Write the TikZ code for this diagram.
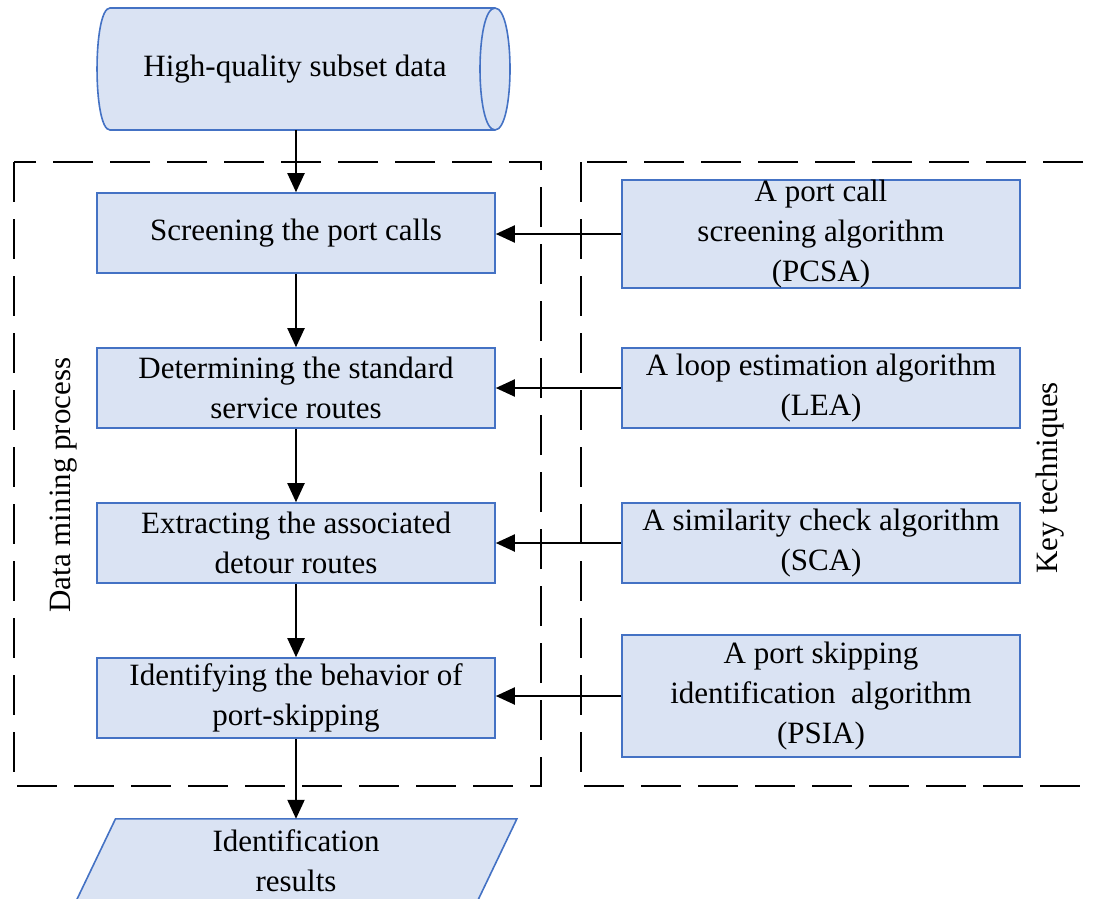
\documentclass[tikz,border=0pt]{standalone}
\usepackage{fontspec}
\setmainfont{Liberation Serif}
\usetikzlibrary{arrows.meta}
\definecolor{boxfill}{RGB}{218,227,243}
\definecolor{boxline}{RGB}{68,114,196}
\tikzset{
  flowbox/.style={draw=boxline, fill=boxfill, line width=1.6pt, minimum width=398pt,
    inner sep=0pt, align=center, font=\fontsize{31}{40}\selectfont},
  plaintext/.style={inner sep=0pt, align=center, font=\fontsize{31}{40}\selectfont},
  arr/.style={line width=2pt, -{Triangle[length=19pt,width=17pt]}},
  groupframe/.style={draw=black, line width=2.2pt, dash pattern=on 40pt off 17pt},
  shapeline/.style={draw=boxline, line width=1.6pt},
}
\begin{document}
\begin{tikzpicture}[x=1pt, y=-1pt]
\useasboundingbox (0,0) rectangle (1097,899);
\clip (0,0) rectangle (1097,899);

% dashed group frames
\draw[groupframe] (14,162) rectangle (541,786);
\draw[groupframe] (581,162) rectangle (1120,786);

% input data store (horizontal cylinder)
\fill[boxfill] (110,8) -- (495,8) .. controls (515,8) and (515,130) .. (495,130)
  -- (110,130) .. controls (92.7,130) and (92.7,8) .. (110,8) -- cycle;
\draw[shapeline] (110,8) -- (495,8) .. controls (515,8) and (515,130) .. (495,130)
  -- (110,130) .. controls (92.7,130) and (92.7,8) .. cycle;
\draw[shapeline] (495,8) .. controls (475,8) and (475,130) .. (495,130);
\node[plaintext, minimum width=413pt, minimum height=122pt] (src) at (303.5,69) {};
\node[plaintext] (srctxt) at (295,69) {High-quality subset data};

% data mining steps
\node[flowbox, minimum height=80pt] (l1) at (296,233) {Screening the port calls};
\node[flowbox, minimum height=80pt] (l2) at (296,388) {Determining the standard\\service routes};
\node[flowbox, minimum height=80pt] (l3) at (296,543) {Extracting the associated\\detour routes};
\node[flowbox, minimum height=80pt] (l4) at (296,698) {Identifying the behavior of\\port-skipping};

% key techniques
\node[flowbox, minimum height=108pt] (r1) at (821,234) {A port call\\screening algorithm\\(PCSA)};
\node[flowbox, minimum height=80pt] (r2) at (821,388) {A loop estimation algorithm\\(LEA)};
\node[flowbox, minimum height=80pt] (r3) at (821,543) {A similarity check algorithm\\(SCA)};
\node[flowbox, minimum height=122pt] (r4) at (821,696) {A port skipping\\identification~~algorithm\\(PSIA)};

% output (parallelogram)
\node[plaintext, minimum width=401pt, minimum height=84pt] (res) at (296,861) {};
\fill[boxfill] ([xshift=20.2pt]res.north west) -- ([xshift=20.2pt]res.north east)
  -- ([xshift=-20.2pt]res.south east) -- ([xshift=-20.2pt]res.south west) -- cycle;
\draw[shapeline] ([xshift=20.2pt]res.north west) -- ([xshift=20.2pt]res.north east)
  -- ([xshift=-20.2pt]res.south east) -- ([xshift=-20.2pt]res.south west) -- cycle;
\node[plaintext] (restxt) at (res.center) {Identification\\results};

% group labels
\node[plaintext, rotate=90] (dmp) at (64,485) {Data mining process};
\node[plaintext, rotate=90] (kt) at (1050,478) {Key techniques};

% connectors
\draw[arr] (l1.north |- src.south) -- (l1.north);
\draw[arr] (l1.south) -- (l2.north);
\draw[arr] (l2.south) -- (l3.north);
\draw[arr] (l3.south) -- (l4.north);
\draw[arr] (l4.south) -- (res.north -| l4.south);
\draw[arr] (r1.west) -- (r1.west -| l1.east);
\draw[arr] (r2.west) -- (r2.west -| l2.east);
\draw[arr] (r3.west) -- (r3.west -| l3.east);
\draw[arr] (r4.west) -- (r4.west -| l4.east);
\end{tikzpicture}
\end{document}
